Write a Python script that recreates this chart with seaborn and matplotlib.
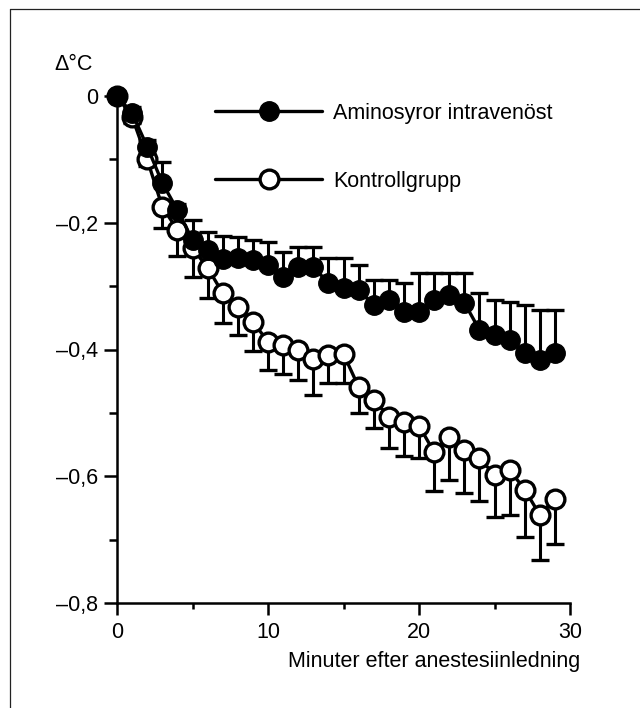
import numpy as np
import matplotlib
matplotlib.use("Agg")
import matplotlib.pyplot as plt
from matplotlib.lines import Line2D
import seaborn as sns

# data (minutes after induction, change in temperature)
minutes = list(range(30))
amino_mean = [0, -0.027, -0.080, -0.137, -0.180, -0.227, -0.243, -0.257, -0.255, -0.259,
              -0.267, -0.285, -0.270, -0.270, -0.295, -0.303, -0.306, -0.330, -0.322, -0.341,
              -0.341, -0.322, -0.314, -0.326, -0.369, -0.377, -0.385, -0.405, -0.416, -0.405]
amino_se = [0, 0.01, 0.01, 0.033, 0.01, 0.031, 0.028, 0.036, 0.033, 0.032,
            0.037, 0.039, 0.032, 0.032, 0.039, 0.047, 0.039, 0.040, 0.032, 0.046,
            0.062, 0.043, 0.035, 0.047, 0.058, 0.055, 0.060, 0.075, 0.078, 0.067]
control_mean = [0, -0.033, -0.100, -0.175, -0.211, -0.240, -0.271, -0.311, -0.333, -0.356,
                -0.388, -0.393, -0.400, -0.415, -0.408, -0.407, -0.459, -0.479, -0.506, -0.514,
                -0.520, -0.562, -0.538, -0.558, -0.571, -0.598, -0.590, -0.621, -0.661, -0.636]
control_se = [0, 0.01, 0.01, 0.033, 0.041, 0.045, 0.048, 0.047, 0.044, 0.046,
              0.044, 0.045, 0.048, 0.057, 0.045, 0.046, 0.041, 0.045, 0.049, 0.054,
              0.051, 0.061, 0.068, 0.068, 0.068, 0.066, 0.071, 0.075, 0.071, 0.071]

labels = ["Aminosyror intravenöst", "Kontrollgrupp"]
yticks = [0, -0.2, -0.4, -0.6, -0.8]
ytick_labels = ["0", "\u20130,2", "\u20130,4", "\u20130,6", "\u20130,8"]
xticks = [0, 10, 20, 30]

sns.set_style("ticks")
plt.rcParams['font.family'] = ['Liberation Sans', 'DejaVu Sans']
plt.rcParams.update({'text.color': 'black', 'axes.labelcolor': 'black',
                     'xtick.color': 'black', 'ytick.color': 'black',
                     'axes.edgecolor': 'black'})
fs = 15.5

fig = plt.figure(figsize=(6.4, 7.08), dpi=100)
ax = fig.add_axes([117 / 640, 1 - 603 / 708, 453 / 640, 507 / 708])

t = np.array(minutes)
zeros = np.zeros(len(t))

# one-sided error bars: up for amino acids, down for control
eb1 = ax.errorbar(t, amino_mean, yerr=[zeros, amino_se], fmt='none', ecolor='black',
                  elinewidth=2.2, capsize=6.8, capthick=2.4, clip_on=False, zorder=1)
eb1[1][0].set_visible(False)
eb2 = ax.errorbar(t, control_mean, yerr=[control_se, zeros], fmt='none', ecolor='black',
                  elinewidth=2.2, capsize=6.8, capthick=2.4, clip_on=False, zorder=1)
eb2[1][1].set_visible(False)

sns.lineplot(x=t, y=control_mean, ax=ax, color='black', linewidth=2.4, marker='o',
             markersize=13.5, markerfacecolor='white', markeredgecolor='black',
             markeredgewidth=2.4, label=labels[1], clip_on=False, zorder=3)
sns.lineplot(x=t, y=amino_mean, ax=ax, color='black', linewidth=2.4, marker='o',
             markersize=14, markerfacecolor='black', markeredgecolor='black',
             markeredgewidth=1, label=labels[0], clip_on=False, zorder=4)

ax.set_xlim(0, 30)
ax.set_ylim(-0.8, 0)
ax.set_xticks(xticks)
ax.set_xticks([5, 15, 25], minor=True)
ax.set_yticks(yticks)
ax.set_yticklabels(ytick_labels)
ax.set_yticks([-0.1, -0.3, -0.5, -0.7], minor=True)
ax.tick_params(axis='y', which='major', length=9.5, width=1.8, pad=4, labelsize=fs)
ax.tick_params(axis='y', which='minor', length=5.5, width=1.8)
ax.tick_params(axis='x', which='major', length=8.5, width=1.8, pad=5, labelsize=fs)
ax.tick_params(axis='x', which='minor', length=4, width=1.8)
sns.despine(ax=ax)
for side in ['left', 'bottom']:
    ax.spines[side].set_linewidth(1.8)

ax.set_xlabel("Minuter efter anestesiinledning", fontsize=fs)
ax.xaxis.set_label_coords((580 - 117) / 453, (603 - 662) / 507)
ax.xaxis.label.set_ha('right')
ax.xaxis.label.set_va('center')
ax.set_ylabel("")
fig.text(74 / 640, 1 - 64 / 708, "\u0394°C", fontsize=fs, ha='center', va='center')

handles, lbls = ax.get_legend_handles_labels()
order = [lbls.index(l) for l in labels]
ax.legend([handles[i] for i in order], [lbls[i] for i in order],
          loc='upper left', bbox_to_anchor=(0.216, 0.987), frameon=False,
          borderpad=0, borderaxespad=0, fontsize=fs, handlelength=5.0,
          handletextpad=0.5, labelspacing=2.2)

# thin frame at left and top of the picture
fig.add_artist(Line2D([10 / 640, 10 / 640], [0, 1 - 9 / 708], color='#222222', linewidth=0.9))
fig.add_artist(Line2D([10 / 640, 1], [1 - 9 / 708, 1 - 9 / 708], color='#222222', linewidth=0.9))

fig.savefig("out.png", dpi=100)
